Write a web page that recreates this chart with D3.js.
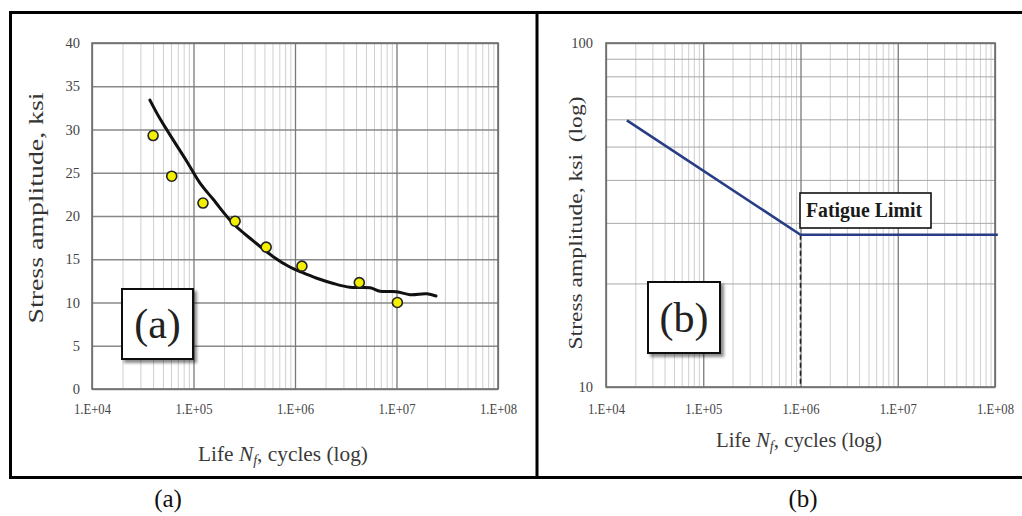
<!DOCTYPE html>
<html>
<head>
<meta charset="utf-8">
<script src="https://cdn.jsdelivr.net/npm/d3@7"></script>
<style>
  html, body { margin: 0; padding: 0; background: #fff; }
  svg text { font-family: "Liberation Serif", "Times New Roman", serif; }
</style>
</head>
<body>
<svg id="fig" width="1022" height="516"></svg>
<script>
// ---- data ----
// Panel (a): fatigue test results (cycles to failure, stress amplitude in ksi)
const testLife   = [4.0e4, 6.1e4, 1.24e5, 2.57e5, 5.2e5, 1.17e6, 4.3e6, 1.02e7];
const testStress = [29.3, 24.6, 21.5, 19.4, 16.4, 14.2, 12.3, 10.0];
// Panel (a): fitted S-N curve
const fitLife   = [3.72e4, 4.7e4, 6.3e4, 8.6e4, 1.16e5, 1.57e5, 2.47e5, 3.9e5, 6.1e5, 8.9e5,
                   1.16e6, 1.64e6, 2.39e6, 3.48e6, 5.5e6, 6.9e6, 1.0e7, 1.36e7, 1.99e7, 2.45e7];
const fitStress = [33.4, 31.2, 28.8, 26.3, 23.8, 21.9, 19.1, 17.1, 15.3, 14.1,
                   13.5, 12.8, 12.2, 11.76, 11.7, 11.3, 11.25, 10.9, 11.0, 10.75];
// Panel (b): idealised S-N line with fatigue limit
const snLife   = [1.64e4, 1.0e6, 1.07e8];
const snStress = [59.6, 27.7, 27.7];
const enduranceLife = 1.0e6;

// Axis ticks and labels
const decadeTicks  = [1e4, 1e5, 1e6, 1e7, 1e8];
const decadeLabels = ["1.E+04", "1.E+05", "1.E+06", "1.E+07", "1.E+08"];
const stressTicksA = [0, 5, 10, 15, 20, 25, 30, 35, 40];
const stressTicksB = [10, 100];
const stressMinorB = [20, 30, 40, 50, 60, 70, 80, 90];

const svg = d3.select("#fig");

// ---- frame ----
svg.append("rect").attr("x", 10.5).attr("y", 12.5).attr("width", 1020).attr("height", 465)
  .attr("fill", "none").attr("stroke", "#000").attr("stroke-width", 3);
svg.append("line").attr("x1", 537).attr("x2", 537).attr("y1", 12).attr("y2", 478)
  .attr("stroke", "#000").attr("stroke-width", 3);

// drop shadow for label boxes
const defs = svg.append("defs");
const f = defs.append("filter").attr("id", "shadow").attr("x", "-20%").attr("y", "-20%")
  .attr("width", "150%").attr("height", "150%");
f.append("feDropShadow").attr("dx", 3).attr("dy", 3).attr("stdDeviation", 1.6)
  .attr("flood-color", "#000").attr("flood-opacity", 0.45);

// minor log ticks 2..9 per decade
function minorLogTicks(lo, hi) {
  const out = [];
  for (let d = lo; d < hi; d *= 10) for (let k = 2; k <= 9; k++) out.push(d * k);
  return out;
}
const minorX = minorLogTicks(1e4, 1e8);

function drawGrid(g, x, y, hMajor, hMinor) {
  const [x0, x1] = x.range();
  const [y0, y1] = y.range();
  // vertical minor
  g.append("g").attr("transform", `translate(0,${y0})`)
    .call(d3.axisBottom(x).tickValues(minorX).tickSize(-(y0 - y1)).tickFormat(""))
    .call(a => a.select(".domain").remove())
    .call(a => a.selectAll("line").attr("stroke", "#cfcfcf").attr("stroke-width", 1));
  // horizontal minor
  if (hMinor) {
    g.append("g").attr("transform", `translate(${x0},0)`)
      .call(d3.axisLeft(y).tickValues(hMinor).tickSize(-(x1 - x0)).tickFormat(""))
      .call(a => a.select(".domain").remove())
      .call(a => a.selectAll("line").attr("stroke", "#a8a8a8").attr("stroke-width", 1));
  }
  // horizontal major
  g.append("g").attr("transform", `translate(${x0},0)`)
    .call(d3.axisLeft(y).tickValues(hMajor).tickSize(-(x1 - x0)).tickFormat(""))
    .call(a => a.select(".domain").remove())
    .call(a => a.selectAll("line").attr("stroke", "#888").attr("stroke-width", 1.4));
  // vertical major
  g.append("g").attr("transform", `translate(0,${y0})`)
    .call(d3.axisBottom(x).tickValues(decadeTicks).tickSize(-(y0 - y1)).tickFormat(""))
    .call(a => a.select(".domain").remove())
    .call(a => a.selectAll("line").attr("stroke", "#7a7a7a").attr("stroke-width", 1.3));
  // plot border
  g.append("rect").attr("x", x0).attr("y", y1).attr("width", x1 - x0).attr("height", y0 - y1)
    .attr("fill", "none").attr("stroke", "#6e6e6e").attr("stroke-width", 1.6);
}

function tickLabels(g, x, y, yTicks, yFmt, yLabelX, xLabelY) {
  g.append("g").attr("transform", `translate(0,${xLabelY})`)
    .call(d3.axisBottom(x).tickValues(decadeTicks).tickSize(0)
      .tickFormat((d, i) => decadeLabels[i]))
    .call(a => a.select(".domain").remove())
    .call(a => a.selectAll("text").attr("font-size", 14.5).attr("fill", "#444")
      .attr("textLength", 37).attr("lengthAdjust", "spacingAndGlyphs"));
  g.append("g").attr("transform", `translate(${yLabelX},0)`)
    .call(d3.axisLeft(y).tickValues(yTicks).tickSize(0).tickPadding(0).tickFormat(yFmt))
    .call(a => a.select(".domain").remove())
    .call(a => a.selectAll("text").attr("font-size", 14.5).attr("fill", "#444"));
}

function xTitle(g, cx, baseY, width) {
  const t = g.append("text").attr("x", cx).attr("y", baseY).attr("text-anchor", "middle")
    .attr("font-size", 21).attr("fill", "#3a3a3a")
    .attr("textLength", width).attr("lengthAdjust", "spacingAndGlyphs");
  t.append("tspan").text("Life ");
  t.append("tspan").attr("font-style", "italic").text("N");
  t.append("tspan").attr("font-style", "italic").attr("font-size", 14).attr("dy", 4).text("f");
  t.append("tspan").attr("dy", -4).text(", cycles (log)");
}

function yTitle(g, cx, cy, text, size, len) {
  g.append("text").attr("transform", `translate(${cx},${cy}) rotate(-90)`)
    .attr("text-anchor", "middle").attr("dominant-baseline", "central")
    .attr("font-size", size).attr("fill", "#333")
    .attr("textLength", len).attr("lengthAdjust", "spacingAndGlyphs")
    .attr("xml:space", "preserve").text(text);
}

function tagBox(g, x, y, w, h, label) {
  g.append("rect").attr("x", x).attr("y", y).attr("width", w).attr("height", h)
    .attr("fill", "#fff").attr("stroke", "#111").attr("stroke-width", 2)
    .attr("filter", "url(#shadow)");
  g.append("text").attr("x", x + w / 2).attr("y", y + h / 2 + 14).attr("text-anchor", "middle")
    .attr("font-size", 42).attr("fill", "#222").text(label);
}

// ---- panel (a) ----
const xA = d3.scaleLog().domain([1e4, 1e8]).range([92, 498]);
const yA = d3.scaleLinear().domain([0, 40]).range([389, 43]);
const gA = svg.append("g");
drawGrid(gA, xA, yA, stressTicksA, null);
tickLabels(gA, xA, yA, stressTicksA, d3.format("d"), 80, 401);
xTitle(gA, 283, 461, 170);
yTitle(gA, 36, 208, "Stress amplitude, ksi", 20, 231);

const fitLine = d3.line().x(d => xA(d[0])).y(d => yA(d[1])).curve(d3.curveCatmullRom.alpha(0.5));
gA.append("path").datum(d3.zip(fitLife, fitStress)).attr("d", fitLine)
  .attr("fill", "none").attr("stroke", "#111").attr("stroke-width", 3)
  .attr("stroke-linejoin", "round").attr("stroke-linecap", "round");
gA.selectAll("circle.pt").data(d3.zip(testLife, testStress)).join("circle")
  .attr("class", "pt").attr("cx", d => xA(d[0])).attr("cy", d => yA(d[1])).attr("r", 5)
  .attr("fill", "#f2ef00").attr("stroke", "#222").attr("stroke-width", 1.6);
tagBox(gA, 122, 289, 71, 70, "(a)");

// ---- panel (b) ----
const xB = d3.scaleLog().domain([1e4, 1e8]).range([606, 995]);
const yB = d3.scaleLog().domain([10, 100]).range([387, 43]);
const gB = svg.append("g");
drawGrid(gB, xB, yB, stressTicksB, stressMinorB);
tickLabels(gB, xB, yB, stressTicksB, d3.format("d"), 593, 401);
xTitle(gB, 799, 447, 166);
yTitle(gB, 576, 223, "Stress amplitude, ksi  (log)", 18, 253);

// dashed marker at the knee
gB.append("line").attr("x1", xB(enduranceLife)).attr("x2", xB(enduranceLife))
  .attr("y1", yB(snStress[1])).attr("y2", yB(10))
  .attr("stroke", "#222").attr("stroke-width", 1.6).attr("stroke-dasharray", "5,3");
const snLine = d3.line().x(d => xB(d[0])).y(d => yB(d[1]));
gB.append("path").datum(d3.zip(snLife, snStress)).attr("d", snLine)
  .attr("fill", "none").attr("stroke", "#283d86").attr("stroke-width", 2.6);

// fatigue limit callout
gB.append("rect").attr("x", 800).attr("y", 193).attr("width", 131).attr("height", 35)
  .attr("fill", "#fff").attr("stroke", "#111").attr("stroke-width", 1.6);
gB.append("text").attr("x", 864).attr("y", 217).attr("text-anchor", "middle")
  .attr("font-size", 20).attr("font-weight", "bold").attr("fill", "#1a1a1a")
  .attr("textLength", 116).attr("lengthAdjust", "spacingAndGlyphs").text("Fatigue Limit");
tagBox(gB, 648, 282, 72, 71, "(b)");

// ---- captions ----
svg.append("text").attr("x", 168).attr("y", 507).attr("text-anchor", "middle")
  .attr("font-size", 25).attr("fill", "#111").text("(a)");
svg.append("text").attr("x", 803).attr("y", 507).attr("text-anchor", "middle")
  .attr("font-size", 25).attr("fill", "#111").text("(b)");
</script>
</body>
</html>
